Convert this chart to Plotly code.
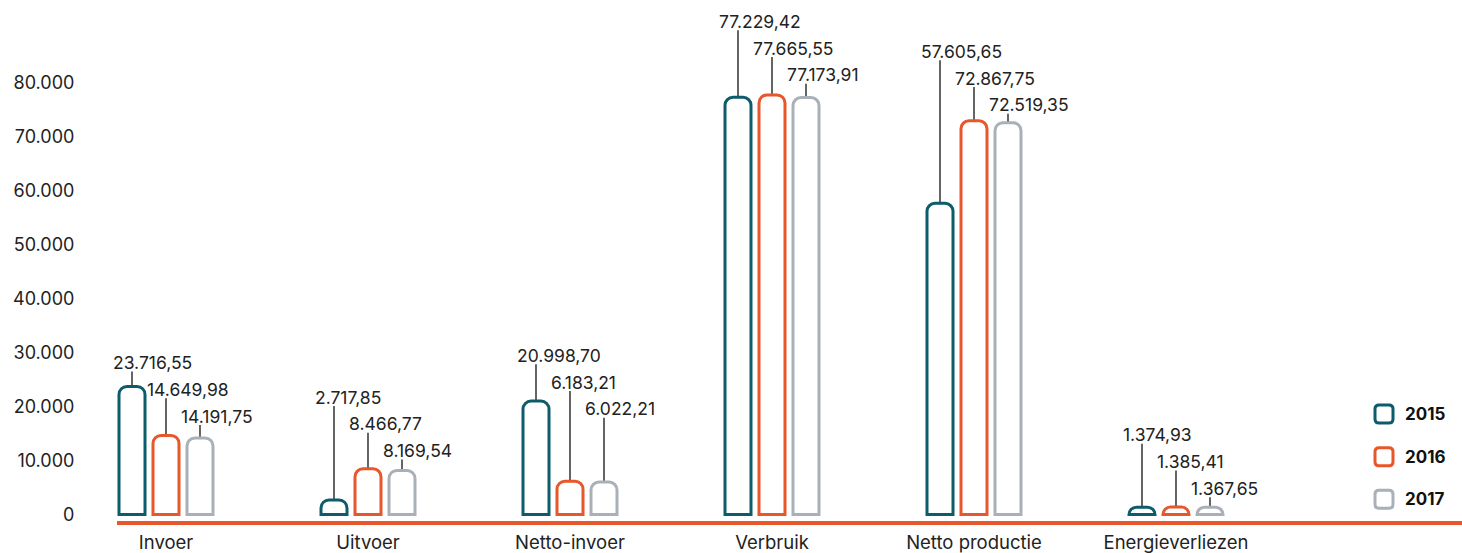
import plotly.graph_objects as go

categories = ["Invoer", "Uitvoer", "Netto-invoer", "Verbruik", "Netto productie", "Energieverliezen"]
years = ["2015", "2016", "2017"]
values_2015 = [23716.55, 2717.85, 20998.70, 77229.42, 57605.65, 1374.93]
values_2016 = [14649.98, 8466.77, 6183.21, 77665.55, 72867.75, 1385.41]
values_2017 = [14191.75, 8169.54, 6022.21, 77173.91, 72519.35, 1367.65]
y_tick_values = [0, 10000, 20000, 30000, 40000, 50000, 60000, 70000, 80000]
y_tick_labels = ["0", "10.000", "20.000", "30.000", "40.000", "50.000", "60.000", "70.000", "80.000"]

series = [values_2015, values_2016, values_2017]
colors = ["#0d5c6b", "#e8572a", "#a9b0b7"]

# ---- layout / style settings ----
FONT = "Inter"
W, H = 1462, 553
ML, MR, MT, MB = 117, 0, 10, 27
plot_w = W - ML - MR
plot_h = H - MT - MB
cat_px = 202.0               # pixel spacing between categories
first_px = 166.0             # pixel of first category centre
x0 = -(first_px - ML) / cat_px
x1 = x0 + plot_w / cat_px
zero_px = 519.5
ppu = 436.5 / 80000.0        # pixels per unit
y_top = (zero_px - MT) / ppu
y_bot = -(MT + plot_h - zero_px) / ppu

slot = 34.0 / cat_px
bar_w = 26.0 / cat_px

# pixel distance of the 2017 label centre above the 2017 bar, per category
label_clear_px = [22, 20, 74, 23, 18, 19]
step_px = 27.0
text_half_px = 9.0

def fmt(v):
    s = f"{v:,.2f}"
    return s.replace(",", "X").replace(".", ",").replace("X", ".")

fig = go.Figure()
xs = list(range(len(categories)))
for j, (yr, vals, col) in enumerate(zip(years, series, colors)):
    fig.add_trace(go.Bar(
        x=xs, y=vals, name=yr,
        width=bar_w, offset=(j - 1) * slot - bar_w / 2,
        marker=dict(color="white", line=dict(color=col, width=3)),
        showlegend=False, hoverinfo="skip",
    ))

annotations = []
shapes = []
for i in xs:
    base = values_2017[i]
    for j, vals in enumerate(series):
        v = vals[i]
        xb = i + (j - 1) * slot
        ylab = base + (label_clear_px[i] + step_px * (2 - j)) / ppu
        shapes.append(dict(type="line", xref="x", yref="y", x0=xb, x1=xb, y0=v,
                           y1=ylab - text_half_px / ppu,
                           line=dict(color="#111111", width=1.3), layer="below"))
        annotations.append(dict(x=xb, y=ylab, xref="x", yref="y", text=fmt(v), showarrow=False,
                                xanchor="left", yanchor="middle", xshift=-21,
                                font=dict(size=17.5, color="#222222", family=FONT)))

# legend (custom rounded squares)
legend_px = [(1384, 418), (1384, 461), (1384, 504)]
path = "M -9,-5 L -9,5 Q -9,9 -5,9 L 5,9 Q 9,9 9,5 L 9,-5 Q 9,-9 5,-9 L -5,-9 Q -9,-9 -9,-5 Z"
for (px, py), yr, col in zip(legend_px, years, colors):
    xa = (px - ML) / plot_w
    ya = (MT + plot_h - py) / plot_h
    shapes.append(dict(type="path", xref="paper", yref="paper", xsizemode="pixel", ysizemode="pixel",
                       xanchor=xa, yanchor=ya, path=path, line=dict(color=col, width=3),
                       fillcolor="white"))
    annotations.append(dict(x=(1403 - ML) / plot_w, y=ya, xref="paper", yref="paper", text=f"<b>{yr}</b>",
                            showarrow=False, xanchor="left", yanchor="middle",
                            font=dict(size=17, color="#111111", family=FONT)))

fig.update_layout(
    width=W, height=H,
    margin=dict(l=ML, r=MR, t=MT, b=MB),
    plot_bgcolor="white", paper_bgcolor="white",
    barmode="overlay", barcornerradius=8,
    shapes=shapes, annotations=annotations,
    font=dict(family=FONT, size=17, color="#222222"),
    xaxis=dict(range=[x0, x1], tickvals=xs, ticktext=categories, showgrid=False, zeroline=False,
               showline=True, linecolor="#e8572a", linewidth=3.5, ticks="outside", ticklen=2,
               tickcolor="rgba(0,0,0,0)", tickfont=dict(size=18.5, color="#222222")),
    yaxis=dict(range=[y_bot, y_top], tickvals=y_tick_values, ticktext=y_tick_labels, showgrid=False,
               zeroline=False, showline=False, ticks="outside", ticklen=38, tickcolor="rgba(0,0,0,0)",
               tickfont=dict(size=18, color="#222222")),
)

fig.write_html(
    "out.html",
    config={"displayModeBar": False},
    post_script=(
        "document.body.style.margin='0';"
        "document.body.style.overflow='hidden';"
        "document.documentElement.style.overflow='hidden';"
    ),
)
